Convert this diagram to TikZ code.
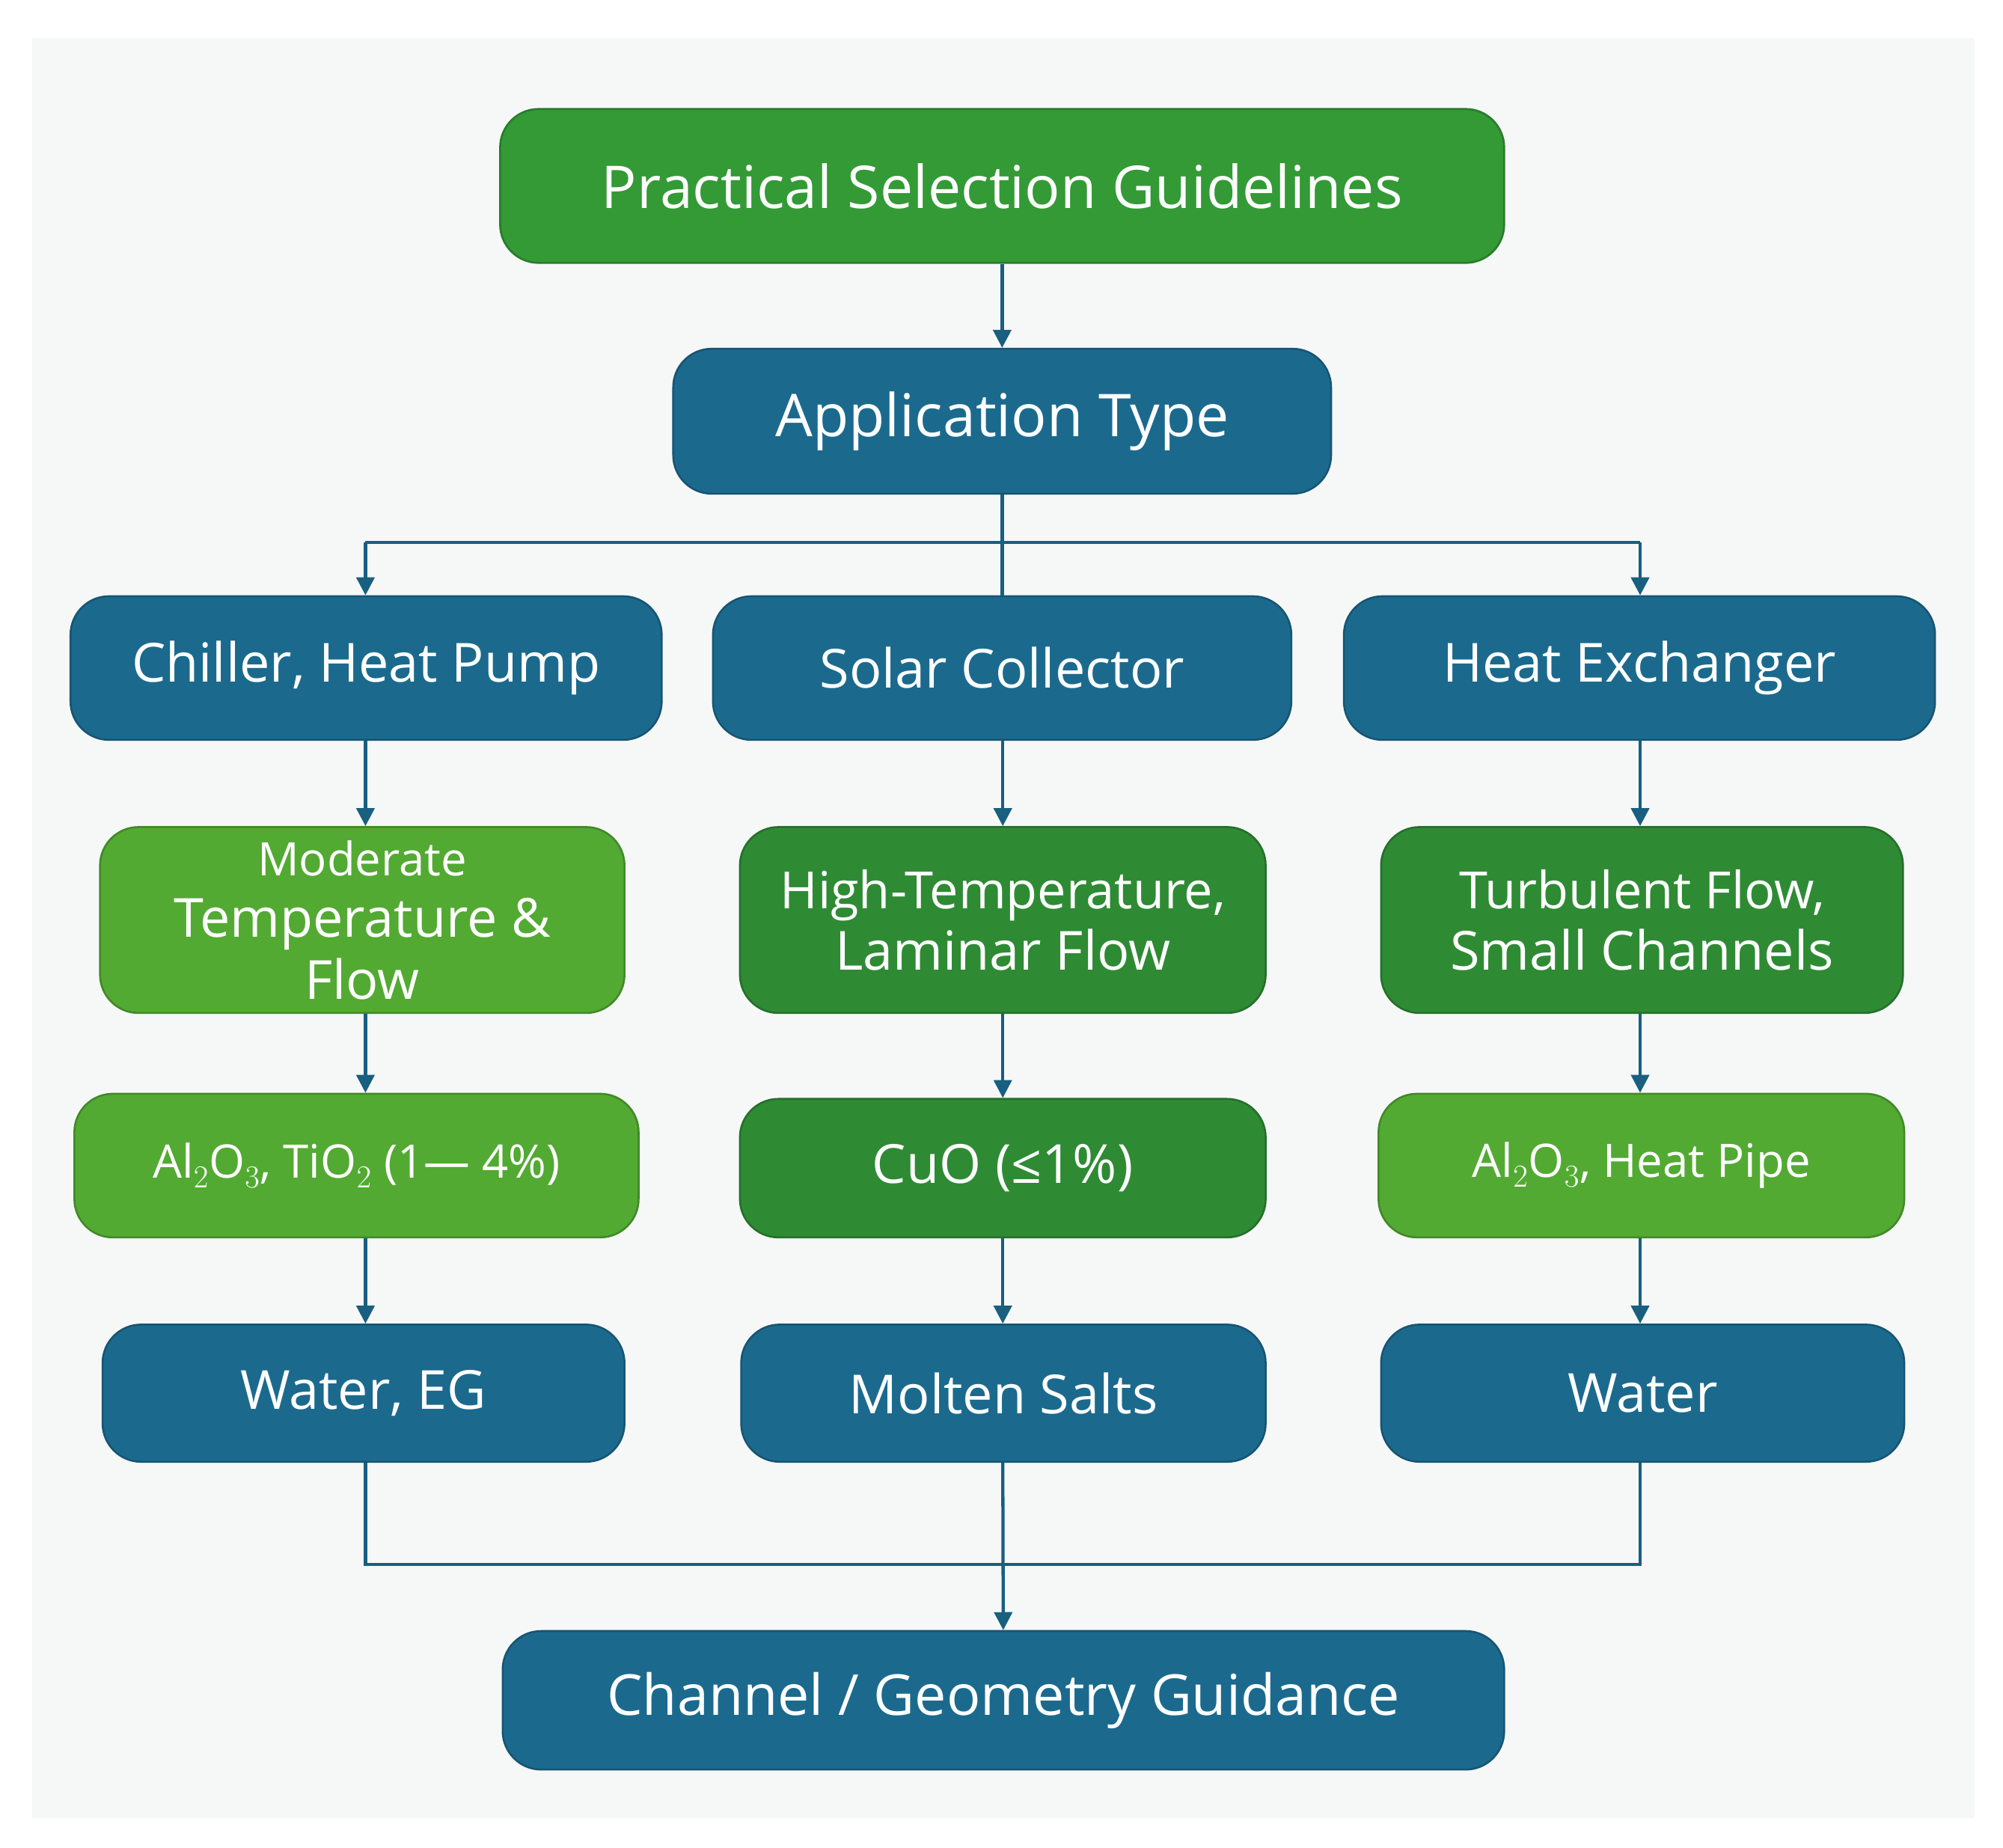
\documentclass[tikz,border=0pt]{standalone}
\usepackage{fontspec}
\setmainfont{Open Sans}
\usetikzlibrary{arrows.meta}
\definecolor{bl}{HTML}{1B6A8E}
\definecolor{dg}{HTML}{2E8B34}
\definecolor{lg}{HTML}{52AA32}
\definecolor{tg}{HTML}{339A36}
\definecolor{bg}{HTML}{F6F7F7}
\begin{document}
\begin{tikzpicture}[x=1pt,y=-1pt,
 box/.style={rounded corners=30pt,draw=#1!80!black,line width=1.5pt,fill=#1,text=white,align=center,font=\fontsize{42}{48}\selectfont,inner sep=0pt},
 ln/.style={draw=bl!90!black,line width=2.5pt},
 ar/.style={ln,-{Triangle[width=14pt,length=14pt]}}]
\useasboundingbox (0,0) rectangle (1562,1441);
\fill[white] (0,0) rectangle (1562,1441);
\fill[bg] (25,30) rectangle (1540,1418);
\newcommand\bx[6]{\node[box=#1,minimum width=#4-#2,minimum height=#5-#3] (#6) at ({(#2+#4)/2},{(#3+#5)/2})}
\bx{tg}{390}{85}{1173}{205}{t}{\fontsize{46}{52}\selectfont Practical Selection Guidelines};
\bx{bl}{525}{272}{1038}{385}{app}{\fontsize{46}{52}\selectfont Application Type};
\bx{bl}{55}{465}{516}{577}{c1}{Chiller, Heat Pump};
\bx{bl}{556}{465}{1007}{577}{c2}{Solar Collector};
\bx{bl}{1048}{465}{1509}{577}{c3}{Heat Exchanger};
\bx{lg}{78}{645}{487}{790}{d1}{\fontsize{36}{47}\selectfont Moderate\\Temperature \&\\Flow};
\bx{dg}{577}{645}{987}{790}{d2}{\fontsize{40}{54}\selectfont High-Temperature,\\Laminar Flow};
\bx{dg}{1077}{645}{1484}{790}{d3}{\fontsize{40}{54}\selectfont Turbulent Flow,\\Small Channels};
\bx{lg}{58}{853}{498}{965}{e1}{\fontsize{36}{42}\selectfont Al$_2$O$_3$, TiO$_2$ (1— 4\%)};
\bx{dg}{577}{857}{987}{965}{e2}{CuO (≤1\%)};
\bx{lg}{1075}{853}{1485}{965}{e3}{\fontsize{36}{42}\selectfont Al$_2$O$_3$, Heat Pipe};
\bx{bl}{80}{1033}{487}{1140}{f1}{Water, EG};
\bx{bl}{578}{1033}{987}{1140}{f2}{Molten Salts};
\bx{bl}{1077}{1033}{1485}{1140}{f3}{Water};
\bx{bl}{392}{1272}{1173}{1380}{g}{\fontsize{44}{50}\selectfont Channel / Geometry Guidance};
\coordinate (j1) at (285,423); \coordinate (j3) at (1279,423);
\coordinate (k1) at (285,1220); \coordinate (k3) at (1279,1220);
\draw[ar] (t) -- (app);
\draw[ln] (app) -- (c2);
\draw[ar] (j1) -- (j1|-c1.north);
\draw[ar] (j3) -- (j3|-c3.north);
\draw[ln] (j1) -- (j3);
\foreach \a/\b in {c1/d1,d1/e1,e1/f1}{\draw[ar] (285,0|-\a.south) -- (285,0|-\b.north);}
\foreach \a/\b in {c2/d2,d2/e2,e2/f2}{\draw[ar] (782,0|-\a.south) -- (782,0|-\b.north);}
\foreach \a/\b in {c3/d3,d3/e3,e3/f3}{\draw[ar] (1279,0|-\a.south) -- (1279,0|-\b.north);}
\draw[ln] (k1|-f1.south) -- (k1) -- (k3) -- (k3|-f3.south);
\draw[ar] (782,0|-f2.south) -- (g);
\end{tikzpicture}
\end{document}
